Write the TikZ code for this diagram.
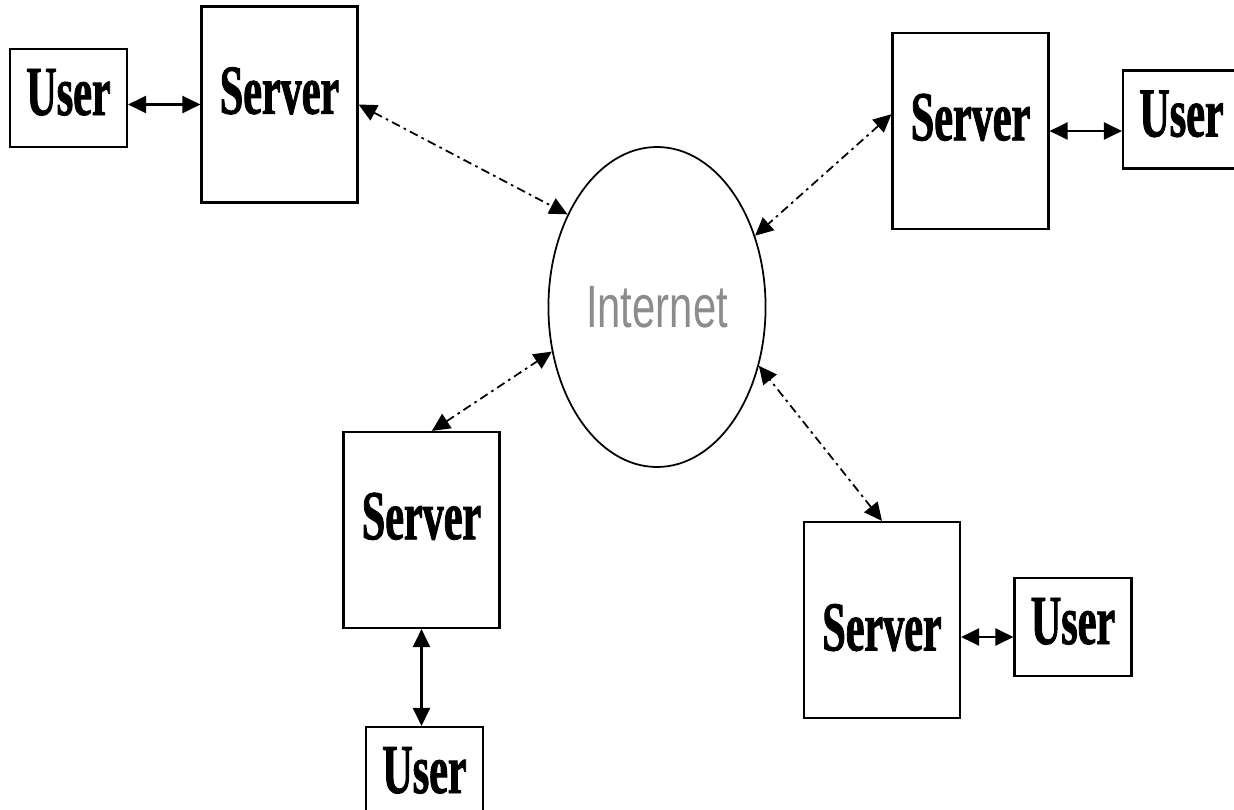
\documentclass[tikz,border=0pt]{standalone}
\usepackage{fontspec}
\usepackage{tikz}
\usetikzlibrary{positioning}
\usetikzlibrary{shapes,shapes.geometric,arrows,arrows.meta,calc}
\newfontfamily\boxfont[FakeStretch=0.6,FakeBold=1.2]{Liberation Serif}
\newfontfamily\netfont[FakeStretch=0.7]{Liberation Sans}
\tikzset{
  server/.style={draw, line width=1.2pt, rectangle, minimum width=3.12cm,
    minimum height=3.92cm, inner sep=0pt, text depth=0.56cm,
    font=\boxfont\bfseries\fontsize{40}{40}\selectfont},
  user/.style={draw, line width=1.2pt, rectangle, minimum width=2.34cm,
    minimum height=1.96cm, inner sep=0pt, text depth=0.24cm,
    font=\boxfont\bfseries\fontsize{40}{40}\selectfont},
  tip/.style={Triangle[length=3.6mm,width=3.4mm]},
  link/.style={{Triangle[length=3.6mm,width=3.4mm]}-{Triangle[length=3.6mm,width=3.4mm]}, line width=1.2pt},
  web/.style={{Triangle[length=3.6mm,width=3.4mm]}-{Triangle[length=3.6mm,width=3.4mm]}, line width=1pt,
    dash pattern=on 5pt off 2.5pt on 1.5pt off 2.5pt}
}
\begin{document}
\begin{tikzpicture}[on grid]
    \useasboundingbox (0,0) rectangle (24.68,-16.2);
        \node[ellipse, draw, line width=1pt, minimum width=4.22cm, minimum height=6.4cm,
              text=black!45, font=\netfont\fontsize{34}{34}\selectfont] (net) at (13.14,-6.14) {Internet};

        \node[server] (srvA) [above left=4.05cm and 7.55cm of net] {Server};
        \node[server] (srvB) [above right=3.52cm and 6.27cm of net] {Server};
        \node[server] (srvC) [below left=4.46cm and 4.71cm of net] {Server};
        \node[server, text depth=0pt, text height=1.22cm] (srvD) [below right=6.26cm and 4.5cm of net] {Server};

        \node[user] (usrA) [above left=0.13cm and 4.22cm of srvA] {User};
        \node[user] (usrB) [above right=0.23cm and 4.22cm of srvB] {User};
        \node[user] (usrC) [below right=4.92cm and 0.06cm of srvC] {User};
        \node[user] (usrD) [below right=0.14cm and 3.82cm of srvD] {User};

        % servers to the internet
        \draw[web] (srvA.east) -- (net.134);
        \draw[web] (srvB.168) -- (net.36);
        \draw[web] (srvC.84) -- (net.203);
        \draw[web] (srvD.north) -- (net.330);

        % users to their servers
        \draw[link] (srvA.west -| usrA.east) -- (srvA.west);
        \draw[link] (srvB.east) -- (srvB.east -| usrB.west);
        \draw[link] (srvC.south) -- (srvC.south |- usrC.north);
        \draw[link] ([yshift=-0.2cm]usrD.west -| srvD.east) -- ([yshift=-0.2cm]usrD.west);
\end{tikzpicture}
\end{document}
